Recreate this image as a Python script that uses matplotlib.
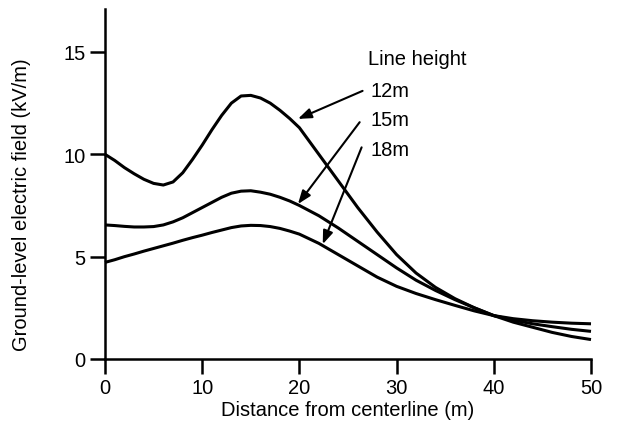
import matplotlib
matplotlib.use("Agg")
import matplotlib.pyplot as plt

plt.rcParams['font.family'] = ['Liberation Sans', 'DejaVu Sans']

# Abstand von der Trassenmitte (m)
distance = [0, 1, 2, 3, 4, 5, 6, 7, 8, 9, 10, 11, 12, 13, 14, 15, 16, 17, 18, 19, 20,
            22, 24, 26, 28, 30, 32, 34, 36, 38, 40, 42, 44, 46, 48, 50]

# Feldstaerke am Boden (kV/m) je Leiterhoehe
field_12m = [10.0, 9.7, 9.35, 9.05, 8.78, 8.58, 8.5, 8.65, 9.1, 9.75, 10.45, 11.2, 11.9, 12.5, 12.85,
             12.88, 12.75, 12.5, 12.15, 11.75, 11.3, 10.0, 8.7, 7.4, 6.2, 5.1, 4.2, 3.5, 2.95, 2.5,
             2.12, 1.8, 1.55, 1.3, 1.1, 0.95]
field_15m = [6.55, 6.52, 6.48, 6.45, 6.45, 6.47, 6.55, 6.7, 6.9, 7.15, 7.4, 7.65, 7.9, 8.1, 8.2,
             8.22, 8.15, 8.05, 7.9, 7.72, 7.5, 7.0, 6.4, 5.75, 5.1, 4.45, 3.85, 3.35, 2.9, 2.5,
             2.12, 1.9, 1.72, 1.58, 1.45, 1.35]
field_18m = [4.72, 4.85, 5.0, 5.13, 5.27, 5.4, 5.53, 5.66, 5.8, 5.93, 6.05, 6.18, 6.3, 6.42, 6.5,
             6.53, 6.52, 6.47, 6.38, 6.25, 6.1, 5.65, 5.1, 4.55, 4.0, 3.55, 3.2, 2.9, 2.62, 2.35,
             2.12, 1.97, 1.87, 1.8, 1.75, 1.72]

labels = ["12m", "15m", "18m"]
x_ticks = [0, 10, 20, 30, 40, 50]
y_ticks = [0, 5, 10, 15]

fig = plt.figure(figsize=(6.41, 4.35), dpi=100)
ax = fig.add_axes([105 / 641, 75 / 435, 486 / 641, 350 / 435])

for series in [field_12m, field_15m, field_18m]:
    ax.plot(distance, series, color="black", lw=2.2, clip_on=False,
            solid_capstyle="butt", solid_joinstyle="round")

ax.set_xlim(0, 50)
ax.set_ylim(0, 17.1)
ax.set_xticks(x_ticks)
ax.set_yticks(y_ticks)

for s in ["top", "right"]:
    ax.spines[s].set_visible(False)
ax.spines["left"].set_linewidth(1.8)
ax.spines["bottom"].set_linewidth(1.8)
ax.tick_params(axis="x", direction="out", length=11, width=1.8, labelsize=14.5, pad=3)
ax.tick_params(axis="y", direction="out", length=11, width=1.8, labelsize=14.5, pad=3)

ax.set_xlabel("Distance from centerline (m)", fontsize=14.5, labelpad=2)
fig.text(22 / 641, 1 - 205 / 435, "Ground-level electric field (kV/m)", fontsize=14.5,
         rotation=90, ha="center", va="center")

# Beschriftung mit Pfeilen
ax.text(27.1, 14.66, "Line height", fontsize=14.5, va="center", ha="left")
label_pos = [(27.3, 13.14), (27.3, 11.68), (27.3, 10.26)]
arrow_start = [(26.5, 13.1), (26.2, 11.57), (26.4, 10.34)]
arrow_tip = [(19.85, 11.73), (19.85, 7.57), (22.4, 5.61)]
for lab, pos, st, tip in zip(labels, label_pos, arrow_start, arrow_tip):
    ax.text(pos[0], pos[1], lab, fontsize=14.5, va="center", ha="left")
    ax.annotate("", xy=tip, xytext=st,
                arrowprops=dict(arrowstyle="-|>,head_length=0.8,head_width=0.3",
                                color="black", lw=1.5, shrinkA=0, shrinkB=0))

fig.savefig("out.png", dpi=100)
